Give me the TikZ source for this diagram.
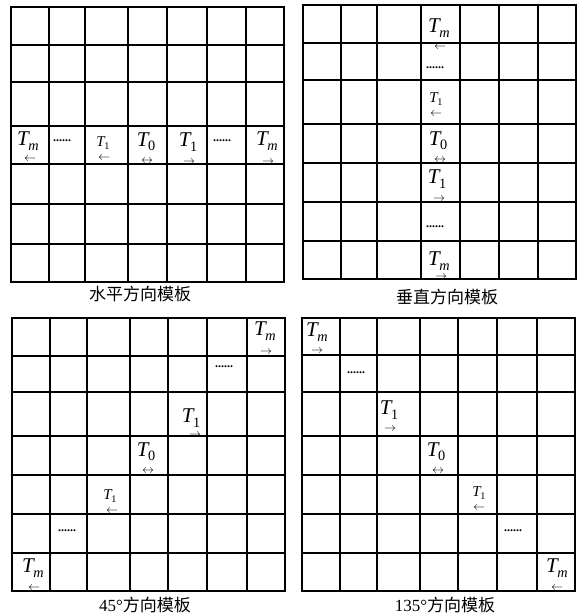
\documentclass[tikz,border=0pt]{standalone}
\usepackage{fontspec}
\setmainfont{Liberation Serif}
\newfontfamily\cjk{Noto Sans CJK SC}
\newcommand{\Tlab}[1]{{\itshape T}\kern-0.02em\raisebox{-0.45ex}{\scalebox{0.68}{#1}}}
\begin{document}
\begin{tikzpicture}[x=1pt,y=-1pt,
  gridline/.style={line width=1.5pt, line cap=rect},
  bigT/.style={font=\fontsize{21}{21}\selectfont, inner sep=0pt},
  smallT/.style={font=\fontsize{15}{15}\selectfont, inner sep=0pt},
  arr/.style={font=\fontsize{12}{12}\selectfont, inner sep=0pt},
  dotsn/.style={font=\fontsize{12}{12}\selectfont\bfseries, inner sep=0pt},
  captext/.style={font=\fontsize{17}{17}\selectfont, inner sep=0pt}]
\useasboundingbox (0,0) rectangle (580,615);
% grid 1: horizontal
\foreach \x in {11,49,85,128,167,207,246,284} \draw[gridline] (\x,7) -- (\x,282);
\foreach \y in {7,45,82,126,164,204,244,282} \draw[gridline] (11,\y) -- (284,\y);
% grid 2: vertical
\foreach \x in {303,341,377,421,460,499,538,576} \draw[gridline] (\x,5) -- (\x,279);
\foreach \y in {5,43,80,124,163,202,241,279} \draw[gridline] (303,\y) -- (576,\y);
% grid 3: 45 deg
\foreach \x in {12,50,87,130,168,207,247,285} \draw[gridline] (\x,318) -- (\x,591);
\foreach \y in {318,356,392,436,475,514,553,591} \draw[gridline] (12,\y) -- (285,\y);
% grid 4: 135 deg
\foreach \x in {302,340,377,420,458,497,537,575} \draw[gridline] (\x,318) -- (\x,591);
\foreach \y in {318,355,392,436,475,514,553,591} \draw[gridline] (302,\y) -- (575,\y);

% horizontal template labels
\node[bigT] (h1) at (28,141) {\Tlab{\textit{m}}};
\node[arr] (ha1) at (30,159) {$\leftarrow$};
\node[dotsn] (hd1) at (62,141) {......};
\node[smallT] (h2) at (103,143) {\Tlab{1}};
\node[arr] (ha2) at (104,158) {$\leftarrow$};
\node[bigT] (h3) at (146,142) {\Tlab{0}};
\node[arr] (ha3) at (147,161) {$\leftrightarrow$};
\node[bigT] (h4) at (188,142) {\Tlab{1}};
\node[arr] (ha4) at (189,162) {$\rightarrow$};
\node[dotsn] (hd2) at (222,141) {......};
\node[bigT] (h5) at (267,141) {\Tlab{\textit{m}}};
\node[arr] (ha5) at (268,162) {$\rightarrow$};
\node[captext] (hc) at (140,294) {\cjk 水平方向模板};

% vertical template labels
\node[bigT] (v1) at (439,28) {\Tlab{\textit{m}}};
\node[arr] (va1) at (440,47) {$\leftarrow$};
\node[dotsn] (vd1) at (435,68) {......};
\node[smallT] (v2) at (436,99) {\Tlab{1}};
\node[arr] (va2) at (436,114) {$\leftarrow$};
\node[bigT] (v3) at (438,141) {\Tlab{0}};
\node[arr] (va3) at (440,160) {$\leftrightarrow$};
\node[bigT] (v4) at (437,179) {\Tlab{1}};
\node[arr] (va4) at (439,199) {$\rightarrow$};
\node[dotsn] (vd2) at (435,227) {......};
\node[bigT] (v5) at (439,261) {\Tlab{\textit{m}}};
\node[arr] (va5) at (441,277) {$\rightarrow$};
\node[captext] (vc) at (447,297) {\cjk 垂直方向模板};

% 45 degree template labels
\node[bigT] (a1) at (265,331) {\Tlab{\textit{m}}};
\node[arr] (aa1) at (266,352) {$\rightarrow$};
\node[dotsn] (ad1) at (224,367) {......};
\node[bigT] (a2) at (191,418) {\Tlab{1}};
\node[arr] (aa2) at (195,435) {$\rightarrow$};
\node[bigT] (a3) at (146,452) {\Tlab{0}};
\node[arr] (aa3) at (148,471) {$\leftrightarrow$};
\node[smallT] (a4) at (110,496) {\Tlab{1}};
\node[arr] (aa4) at (112,511) {$\leftarrow$};
\node[dotsn] (ad2) at (67,531) {......};
\node[bigT] (a5) at (33,568) {\Tlab{\textit{m}}};
\node[arr] (aa5) at (34,588) {$\leftarrow$};
\node[captext] (ac) at (145,605) {45°{\cjk 方向模板}};

% 135 degree template labels
\node[bigT] (b1) at (317,332) {\Tlab{\textit{m}}};
\node[arr] (ba1) at (317,351) {$\rightarrow$};
\node[dotsn] (bd1) at (356,373) {......};
\node[bigT] (b2) at (389,410) {\Tlab{1}};
\node[arr] (ba2) at (390,429) {$\rightarrow$};
\node[bigT] (b3) at (436,452) {\Tlab{0}};
\node[arr] (ba3) at (438,471) {$\leftrightarrow$};
\node[smallT] (b4) at (479,493) {\Tlab{1}};
\node[arr] (ba4) at (479,508) {$\leftarrow$};
\node[dotsn] (bd2) at (513,531) {......};
\node[bigT] (b5) at (557,568) {\Tlab{\textit{m}}};
\node[arr] (ba5) at (557,588) {$\leftarrow$};
\node[captext] (bc) at (445,605) {135°{\cjk 方向模板}};
\end{tikzpicture}
\end{document}
